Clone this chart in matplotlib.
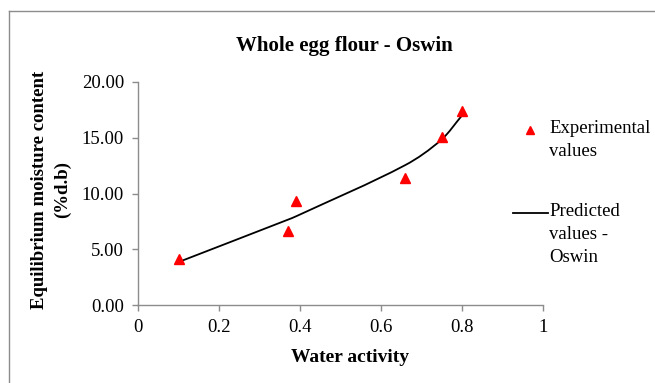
import numpy as np
import matplotlib
matplotlib.use("Agg")
import matplotlib.pyplot as plt
from matplotlib.path import Path
from matplotlib.patches import PathPatch
from matplotlib.lines import Line2D

# data
water_activity = [0.10, 0.37, 0.39, 0.66, 0.75, 0.80]
experimental = [4.10, 6.60, 9.30, 11.35, 15.10, 17.40]
predicted = [3.85, 7.65, 7.95, 12.55, 14.85, 17.00]

x_ticks = [0, 0.2, 0.4, 0.6, 0.8, 1]
x_tick_labels = ["0", "0.2", "0.4", "0.6", "0.8", "1"]
y_ticks = [0, 5, 10, 15, 20]

plt.rcParams['font.family'] = ['Liberation Serif', 'DejaVu Serif']
gray = '#8c8c8c'

W, H = 655, 383
fig = plt.figure(figsize=(W / 100, H / 100), dpi=100)


def fx(px):
    return px / W


def fy(py):
    return 1 - py / H


ax = fig.add_axes([fx(138), fy(305), fx(543) - fx(138), fy(82) - fy(305)])
ax.set_xlim(0, 1)
ax.set_ylim(0, 20)

# experimental points
ax.plot(water_activity, experimental, linestyle='none', marker='^',
        color='#ff0000', markersize=7, zorder=3, clip_on=False)

# predicted curve, smoothed like the spreadsheet line (cubic hermite -> bezier)
xs = np.array(water_activity)
ys = np.array(predicted)
n = len(xs)
m = np.zeros(n)
m[0] = (ys[1] - ys[0]) / (xs[1] - xs[0])
m[-1] = (ys[-1] - ys[-2]) / (xs[-1] - xs[-2])
for i in range(1, n - 1):
    m[i] = (ys[i + 1] - ys[i - 1]) / (xs[i + 1] - xs[i - 1])
verts = [(xs[0], ys[0])]
codes = [Path.MOVETO]
for i in range(n - 1):
    h = xs[i + 1] - xs[i]
    verts += [(xs[i] + h / 3, ys[i] + m[i] * h / 3),
              (xs[i + 1] - h / 3, ys[i + 1] - m[i + 1] * h / 3),
              (xs[i + 1], ys[i + 1])]
    codes += [Path.CURVE4] * 3
ax.add_patch(PathPatch(Path(verts, codes), facecolor='none',
                       edgecolor='black', linewidth=1.3, zorder=2))

ax.set_xticks(x_ticks)
ax.set_xticklabels(x_tick_labels)
ax.set_yticks(y_ticks)
ax.set_yticklabels(["%.2f" % v for v in y_ticks])
ax.tick_params(direction='out', length=4, width=1, color=gray,
               labelsize=13.5, pad=6)
for s in ['top', 'right']:
    ax.spines[s].set_visible(False)
for s in ['left', 'bottom']:
    ax.spines[s].set_color(gray)
    ax.spines[s].set_linewidth(1)

fig.text(fx(344), fy(46), "Whole egg flour - Oswin", ha='center', va='center',
         fontsize=15, fontweight='bold')
fig.text(fx(350), fy(357), "Water activity", ha='center', va='center',
         fontsize=14, fontweight='bold')
fig.text(fx(51), fy(190), "Equilibrium moisture content\n(%d.b)", rotation=90,
         ha='center', va='center', multialignment='center',
         fontsize=13.5, fontweight='bold', linespacing=1.4)

# legend, drawn by hand so the keys sit on the first text line
fig.add_artist(Line2D([fx(530)], [fy(130)], marker='^', color='#ff0000',
                      markersize=6, linestyle='none'))
fig.text(fx(549), fy(120), "Experimental\nvalues", ha='left', va='top',
         fontsize=13.5, linespacing=1.45)
fig.add_artist(Line2D([fx(513), fx(548)], [fy(213), fy(213)], color='black',
                      linewidth=1.3))
fig.text(fx(549), fy(203), "Predicted\nvalues -\nOswin", ha='left', va='top',
         fontsize=13.5, linespacing=1.45)

# outer frame (only top and left edges show in the crop)
fig.add_artist(Line2D([fx(9), 1], [fy(11), fy(11)], color=gray, linewidth=1))
fig.add_artist(Line2D([fx(9), fx(9)], [fy(11), 0], color=gray, linewidth=1))

fig.savefig("out.png", dpi=100)
